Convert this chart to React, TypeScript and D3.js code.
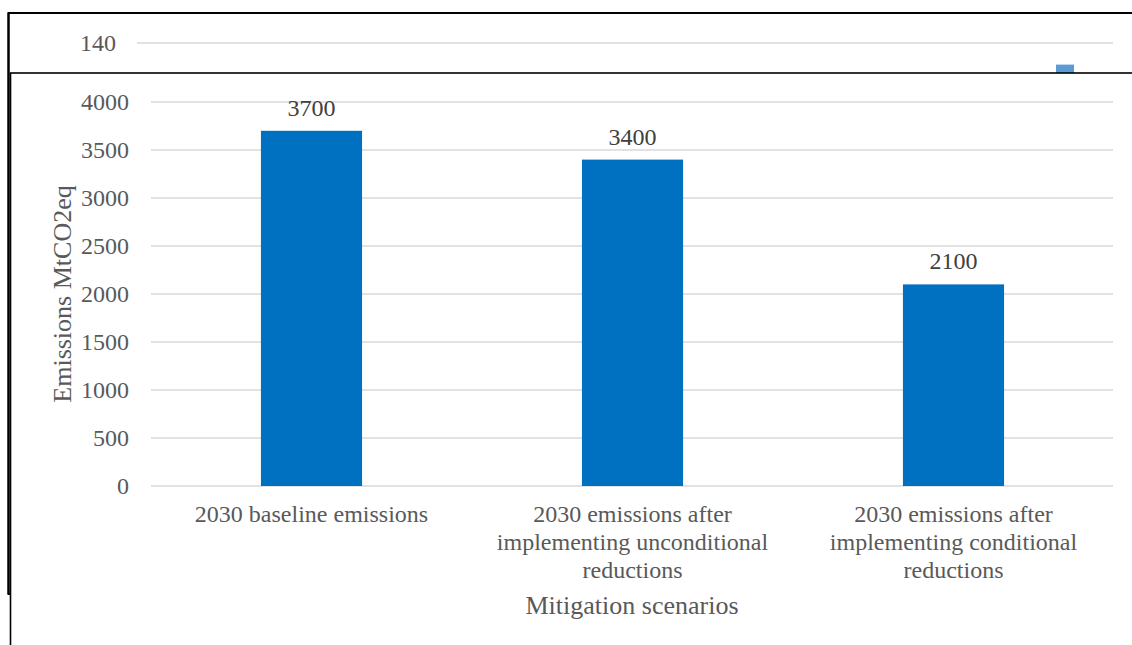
import React from "react";
import * as d3 from "d3";

// Foreground chart data
const categories: string[][] = [
  ["2030 baseline emissions"],
  ["2030 emissions after", "implementing unconditional", "reductions"],
  ["2030 emissions after", "implementing conditional", "reductions"],
];
const emissions: number[] = [3700, 3400, 2100];
const yTicks: number[] = [0, 500, 1000, 1500, 2000, 2500, 3000, 3500, 4000];

// Partially hidden chart behind it
const backTicks: number[] = [140];
const backValues: number[] = [131];

const W = 1132;
const H = 645;
const FONT = "Liberation Serif";
const TEXT = "#595959";
const GRID = "#d9d9d9";
const BAR = "#0070c0";

export default function App() {
  const plotLeft = 151;
  const plotRight = 1114;
  const x = d3
    .scaleBand<number>()
    .domain(d3.range(categories.length))
    .range([plotLeft, plotRight])
    .paddingInner(0.685)
    .paddingOuter(0.3425);
  const y = d3.scaleLinear().domain([0, 4000]).range([486, 102]);

  // background chart scale
  const by = d3.scaleLinear().domain([0, 140]).range([379, 43]);

  const tx = { fontFamily: `"${FONT}"` };

  return (
    <svg width={W} height={H} style={{ position: "absolute", left: 0, top: 0, background: "#fff" }}>
      {/* background chart frame */}
      <rect x={8.5} y={13} width={W} height={581} fill="#fff" stroke="#000" strokeWidth={2} />
      {backTicks.map((t) => (
        <g key={"b" + t}>
          <line x1={137} x2={1113} y1={by(t)} y2={by(t)} stroke={GRID} strokeWidth={1.5} />
          <text style={tx} x={116} y={by(t)} dy="0.35em" textAnchor="end" fontSize={24} fill={TEXT}>
            {t}
          </text>
        </g>
      ))}
      {backValues.map((v, i) => (
        <rect key={"bv" + i} x={1056} y={by(v)} width={18} height={by(0) - by(v)} fill="#5b9bd5" />
      ))}

      {/* foreground chart frame */}
      <rect x={10.5} y={73} width={W} height={H} fill="#fff" stroke="#000" strokeWidth={1.6} />
      <line x1={8.5} x2={8.5} y1={13} y2={594} stroke="#000" strokeWidth={2} />

      {yTicks.map((t) => (
        <g key={t}>
          <line x1={plotLeft} x2={plotRight - 1} y1={y(t)} y2={y(t)} stroke={GRID} strokeWidth={1.5} />
          <text style={tx} x={129} y={y(t)} dy="0.35em" textAnchor="end" fontSize={24} fill={TEXT}>
            {t}
          </text>
        </g>
      ))}

      {emissions.map((v, i) => (
        <g key={i}>
          <rect x={x(i)!} y={y(v)} width={x.bandwidth()} height={y(0) - y(v)} fill={BAR} />
          <text
            style={tx}
            x={x(i)! + x.bandwidth() / 2}
            y={y(v) - 15}
            textAnchor="middle"
            fontSize={24}
            fill="#404040"
          >
            {v}
          </text>
          {categories[i].map((line, j) => (
            <text
              key={j}
              style={tx}
              x={x(i)! + x.bandwidth() / 2}
              y={522 + j * 28}
              textAnchor="middle"
              fontSize={24}
              fill={TEXT}
            >
              {line}
            </text>
          ))}
        </g>
      ))}

      <text
        style={tx}
        transform={`translate(71, ${y(2000)}) rotate(-90)`}
        textAnchor="middle"
        fontSize={26}
        fill={TEXT}
      >
        Emissions MtCO2eq
      </text>
      <text style={tx} x={632} y={614} textAnchor="middle" fontSize={26} fill={TEXT}>
        Mitigation scenarios
      </text>
    </svg>
  );
}
